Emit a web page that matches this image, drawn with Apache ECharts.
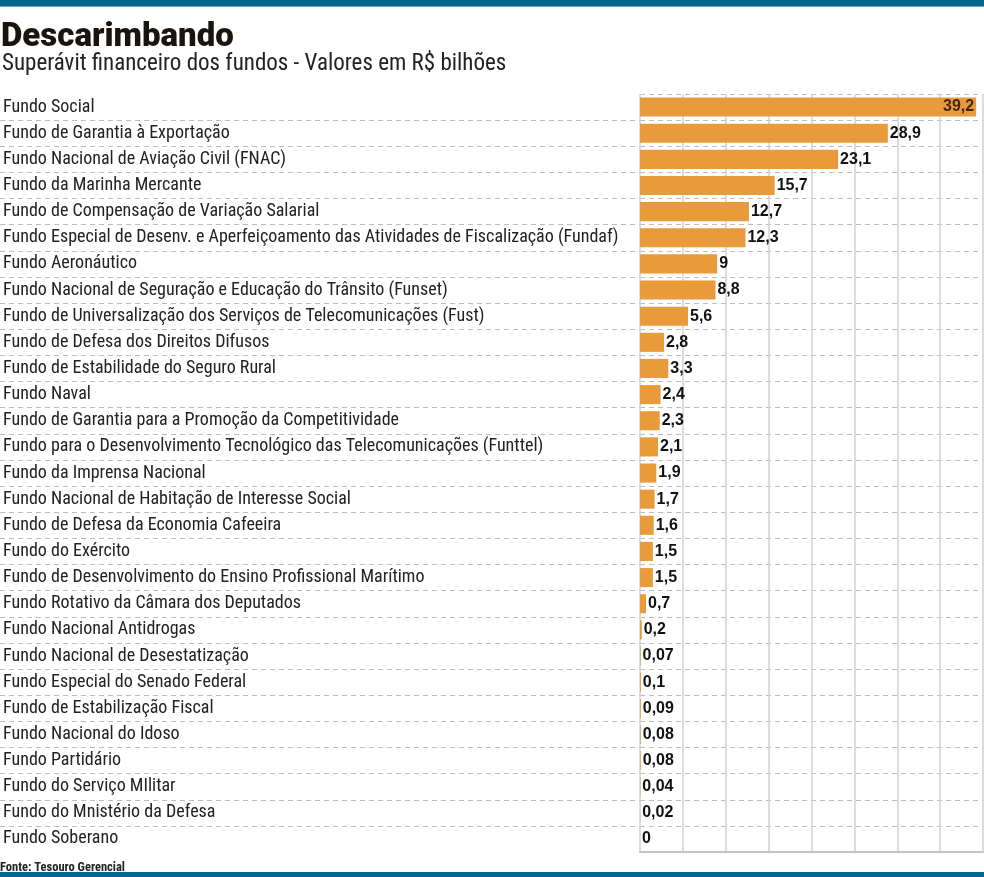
<!DOCTYPE html>
<html>
<head>
<meta charset="utf-8">
<script src="https://cdn.jsdelivr.net/npm/echarts@6/dist/echarts.min.js"></script>
<style>
html, body { margin: 0; padding: 0; background: #fff; }
#chart { width: 984px; height: 877px; }
</style>
</head>
<body>
<div id="chart"></div>
<script>
// fundos e superávit (R$ bilhões)
var fundos = [
	'Fundo Social',
	'Fundo de Garantia à Exportação',
	'Fundo Nacional de Aviação Civil (FNAC)',
	'Fundo da Marinha Mercante',
	'Fundo de Compensação de Variação Salarial',
	'Fundo Especial de Desenv. e Aperfeiçoamento das Atividades de Fiscalização (Fundaf)',
	'Fundo Aeronáutico',
	'Fundo Nacional de Seguração e Educação do Trânsito (Funset)',
	'Fundo de Universalização dos Serviços de Telecomunicações (Fust)',
	'Fundo de Defesa dos Direitos Difusos',
	'Fundo de Estabilidade do Seguro Rural',
	'Fundo Naval',
	'Fundo de Garantia para a Promoção da Competitividade',
	'Fundo para o Desenvolvimento Tecnológico das Telecomunicações (Funttel)',
	'Fundo da Imprensa Nacional',
	'Fundo Nacional de Habitação de Interesse Social',
	'Fundo de Defesa da Economia Cafeeira',
	'Fundo do Exército',
	'Fundo de Desenvolvimento do Ensino Profissional Marítimo',
	'Fundo Rotativo da Câmara dos Deputados',
	'Fundo Nacional Antidrogas',
	'Fundo Nacional de Desestatização',
	'Fundo Especial do Senado Federal',
	'Fundo de Estabilização Fiscal',
	'Fundo Nacional do Idoso',
	'Fundo Partidário',
	'Fundo do Serviço MIlitar',
	'Fundo do Mnistério da Defesa',
	'Fundo Soberano'
];
var valores = [39.2, 28.9, 23.1, 15.7, 12.7, 12.3, 9, 8.8, 5.6, 2.8, 3.3, 2.4, 2.3, 2.1, 1.9, 1.7,
	1.6, 1.5, 1.5, 0.7, 0.2, 0.07, 0.1, 0.09, 0.08, 0.08, 0.04, 0.02, 0];
var eixoX = { min: 0, max: 40, interval: 5 };

var fonte = '"Roboto Condensed", "Liberation Sans", sans-serif';
var topo = 94, linha = 26.14;

var dados = valores.map(function(v, i) {
	var d = { value: v };
	// o maior valor fica dentro da barra
	if (i === 0) {
		d.label = { position: 'insideRight', color: '#4a2608', distance: 2 };
	}
	return d;
});

var chart = echarts.init(document.getElementById('chart'));
chart.setOption({
	backgroundColor: '#fff',
	animation: false,
	title: [{
		text: 'Descarimbando',
		left: 1, top: 21, padding: 0,
		textStyle: { fontFamily: 'Roboto, sans-serif', fontWeight: 900, fontSize: 33, color: '#1a1410' }
	}, {
		text: 'Superávit financeiro dos fundos - Valores em R$ bilhões',
		left: 2, top: 53, padding: 0,
		textStyle: { fontFamily: fonte, fontWeight: 'normal', fontSize: 23, color: '#222' }
	}, {
		text: 'Fonte: Tesouro Gerencial',
		left: 0, top: 861, padding: 0,
		textStyle: { fontFamily: fonte, fontWeight: 'bold', fontSize: 12.5, color: '#222' }
	}],
	graphic: [
		{ type: 'rect', left: 0, top: 0, shape: { width: 984, height: 6 }, style: { fill: '#05668f' } },
		{ type: 'rect', left: 0, top: 6, shape: { width: 984, height: 1 }, style: { fill: '#6aa6c2' } },
		{ type: 'rect', left: 0, top: 872, shape: { width: 984, height: 5 }, style: { fill: '#05668f' } }
	],
	grid: [
		// linhas tracejadas à esquerda, entre as linhas
		{ left: 0, width: 640, top: topo + linha, height: linha * (fundos.length - 2) },
		{ left: 640, right: 1, top: topo, height: linha * fundos.length }
	],
	xAxis: [
		{ gridIndex: 0, type: 'value', show: false },
		{
			gridIndex: 1, type: 'value', min: eixoX.min, max: eixoX.max, interval: eixoX.interval,
			axisLabel: { show: false }, axisTick: { show: false },
			axisLine: { show: true, lineStyle: { color: '#c4c4c4', width: 2 } },
			splitLine: { show: true, lineStyle: { color: '#d2d2d2', width: 1.5, type: 'solid' } }
		}
	],
	yAxis: [
		{
			gridIndex: 0, type: 'category', data: fundos.slice(1, fundos.length - 1), inverse: true,
			axisLabel: { show: false }, axisTick: { show: false }, axisLine: { show: false },
			splitLine: { show: true, lineStyle: { color: '#bdbdbd', type: [5, 4], width: 1 } }
		},
		{
			gridIndex: 1, type: 'category', data: fundos, inverse: true,
			axisTick: { show: false }, axisLine: { show: false },
			axisLabel: { align: 'left', margin: 637, fontFamily: fonte, fontSize: 18, color: '#222', padding: [2, 0, 0, 0] },
			splitLine: { show: true, lineStyle: { color: '#bdbdbd', type: [5, 4], width: 1 } }
		}
	],
	series: [{
		type: 'bar',
		xAxisIndex: 1, yAxisIndex: 1,
		data: dados,
		barCategoryGap: '27%',
		itemStyle: { color: '#e99a3a' },
		label: {
			show: true, position: 'right', distance: 2,
			fontFamily: '"Liberation Sans", sans-serif', fontWeight: 'bold', fontSize: 16, color: '#111',
			formatter: function(p) { return String(p.value).replace('.', ','); }
		}
	}]
});
</script>
</body>
</html>
